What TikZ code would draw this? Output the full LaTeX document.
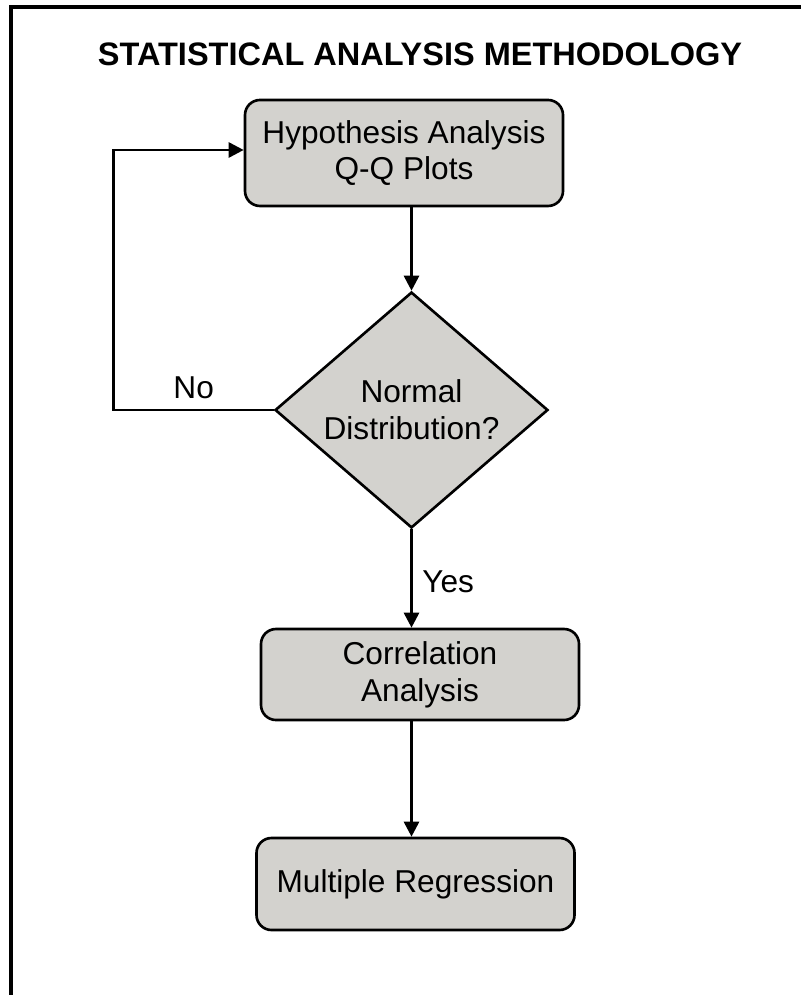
\documentclass[tikz,border=0pt]{standalone}
\usepackage{fontspec}
\setmainfont{Liberation Sans}
\usepackage{xcolor}
\usepackage{tikz}
\usetikzlibrary{positioning, shapes.geometric}
\usetikzlibrary{calc, arrows.meta}
\definecolor{boxgray}{RGB}{211,210,206}
\tikzstyle{stepbox} = [rectangle, rounded corners=0.3cm, minimum width=6.36cm, align=center, fill=boxgray, draw=black, line width=1.5pt]
\tikzstyle{decision} = [diamond, minimum width=5.46cm, minimum height=4.5cm, inner sep=0pt, align=center, fill=boxgray, draw=black, line width=1.5pt]
\tikzstyle{arrow} = [line width=1.6pt,-{Triangle[length=0.3cm,width=0.3cm]}]
\tikzstyle{frameline} = [line width=1.8pt]
\tikzstyle{every node}=[font=\fontsize{18}{21}\selectfont]

\begin{document}
\begin{tikzpicture}
		\useasboundingbox (0,0) rectangle (16,-19.9);
		\draw [frameline] (0.22,-20.5) |- (16.5,-0.14);
		\node (title) at (8.4,-1.09) {\fontsize{18.5}{21}\selectfont\textbf{STATISTICAL ANALYSIS METHODOLOGY}};
		\node (box1) [stepbox, minimum height=2.12cm, below of=title, node distance=1.97cm, xshift=-0.32cm] {Hypothesis Analysis\\Q-Q Plots};
		\node (dec) [decision, below of=box1, node distance=5.14cm, xshift=0.15cm] {Normal\\Distribution?};
		\node (box2) [stepbox, minimum height=1.82cm, below of=dec, node distance=5.29cm, xshift=0.17cm] {Correlation\\Analysis};
		\node (box3) [stepbox, minimum height=1.84cm, below of=box2, node distance=4.19cm, xshift=-0.09cm] {Multiple Regression};
		\draw [arrow](box1.south -| dec.north) -- (dec.north);
		\draw [arrow](dec.south) -- node[right=2pt, yshift=-2pt]{Yes} (box2.north -| dec.south);
		\draw [arrow](box2.south -| dec.south) -- (box3.north -| dec.south);
		\draw [arrow](dec.west) -- node[above=2pt]{No} ($(dec.west)-(3.2,0)$) |- ($(box1.west)+(0,0.06)$);
	\end{tikzpicture}
\end{document}
